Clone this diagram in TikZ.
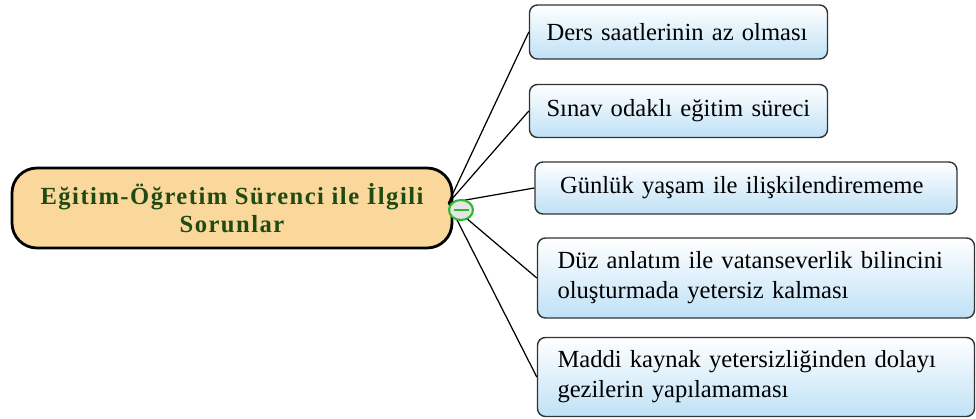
\documentclass[tikz,border=0pt]{standalone}
\usepackage{fontspec}
\setmainfont{Liberation Serif}
\newfontfamily\topicfont{Liberation Serif}[LetterSpace=6]
\usepackage{xcolor}
\usetikzlibrary{positioning, calc, shapes.geometric}
\definecolor{mainfill}{HTML}{FAD89C}
\definecolor{maintext}{HTML}{1F4A12}
\definecolor{boxblue}{HTML}{BFE1F6}
\definecolor{knobgreen}{HTML}{2DB82D}

\begin{document}
\begin{tikzpicture}[
    topic/.style={draw=black, line width=1.6pt, rounded corners=0.5cm, fill=mainfill,
        minimum width=8.8cm, minimum height=1.6cm, align=center,
        font=\topicfont\fontsize{14}{15.5}\selectfont\bfseries\color{maintext}},
    issue/.style={draw=black!80, line width=0.8pt, rounded corners=0.16cm,
        top color=white, bottom color=boxblue, inner xsep=0.4cm, align=left,
        font=\fontsize{14}{17}\selectfont},
    branch/.style={line width=0.7pt, black},
]
    \useasboundingbox (0,0) rectangle (19.52,-8.38);

    % Central topic
    \node[topic] (main) at (4.64,-4.16) {Eğitim-Öğretim Sürenci ile İlgili\\Sorunlar};
    \coordinate (hub) at ($(main.east)+(-0.1,0.1)$);

    % Sub-topics
    \node[issue, inner xsep=0.34cm, text width=5.28cm, minimum height=1.08cm] (d1) at (13.57,-0.64) {Ders saatlerinin az olması};
    \node[issue, inner xsep=0.34cm, text width=5.28cm, minimum height=1.06cm] (d2) at (13.57,-2.22) {Sınav odaklı eğitim süreci};
    \node[issue, inner xsep=0.5cm, text width=7.44cm, minimum height=1.04cm] (d3) at (14.92,-3.76) {Günlük yaşam ile ilişkilendirememe};
    \node[issue, text width=7.94cm, minimum height=1.6cm] (d4) at (15.12,-5.56) {Düz anlatım ile vatanseverlik bilincini\\oluşturmada yetersiz kalması};
    \node[issue, text width=7.94cm, minimum height=1.58cm] (d5) at (15.12,-7.54) {Maddi kaynak yetersizliğinden dolayı\\gezilerin yapılamaması};

    % Branches
    \foreach \d in {d1,d2,d3,d4,d5}
        \draw[branch] (hub) -- (\d.west);

    % Collapse knob
    \node[draw=knobgreen, line width=1.2pt, fill=black!10, ellipse, minimum width=0.48cm,
        minimum height=0.4cm, inner sep=0pt] (knob) at (9.22,-4.2) {};
    \draw[knobgreen, line width=1.6pt] ($(knob.center)+(-0.15,0)$) -- ($(knob.center)+(0.15,0)$);
\end{tikzpicture}
\end{document}
